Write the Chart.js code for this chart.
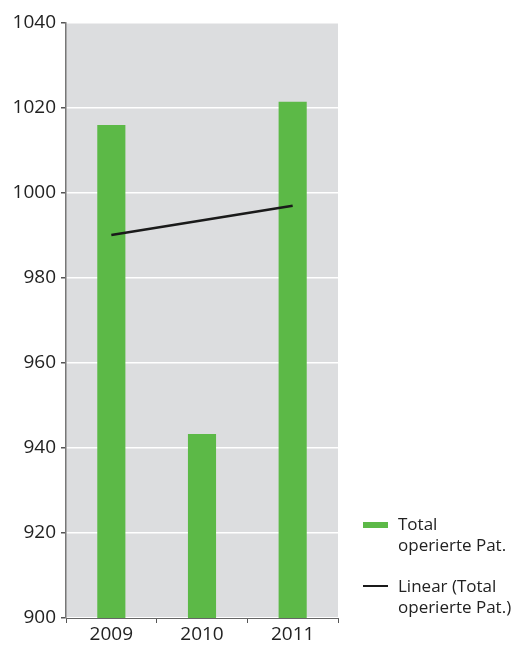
<!DOCTYPE html>
<html>
<head>
<meta charset="utf-8">
<script src="https://cdn.jsdelivr.net/npm/chart.js@4/dist/chart.umd.min.js"></script>
<style>
  html, body { margin: 0; padding: 0; background: #fff; }
  #wrap { position: relative; width: 529px; height: 646px; }
  #legend { position: absolute; left: 363px; top: 513px; font-family: "Open Sans", sans-serif; font-size: 17px; color: #222; line-height: 21px; }
  .item { position: relative; padding-left: 35px; margin-bottom: 20px; white-space: nowrap; }
  .swatch { position: absolute; left: 0; width: 25px; }
</style>
</head>
<body>
<div id="wrap">
  <canvas id="chart" width="529" height="646"></canvas>
  <div id="legend">
    <div class="item"><span class="swatch" style="top:9px;height:6px;background:#5cb947"></span>Total<br>operierte Pat.</div>
    <div class="item"><span class="swatch" style="top:10px;height:2px;background:#1a1a1a"></span>Linear (Total<br>operierte Pat.)</div>
  </div>
</div>
<script>
const years = ['2009', '2010', '2011'];
const operiertePat = [1016, 943.3, 1021.5];
// trend line end points, straight line between them
const linearTrend = [990.1, null, 997.0];
const yTicks = [900, 920, 940, 960, 980, 1000, 1020, 1040];

// grey plot background
const plotBg = {
  id: 'plotBg',
  beforeDraw(chart) {
    const { ctx, chartArea: a } = chart;
    ctx.save();
    ctx.fillStyle = '#dcdddf';
    ctx.fillRect(a.left, a.top, a.right - a.left, a.bottom - a.top);
    ctx.restore();
  }
};

const ctx = document.getElementById('chart').getContext('2d');
new Chart(ctx, {
  data: {
    labels: years,
    datasets: [
      {
        type: 'line',
        label: 'Linear (Total operierte Pat.)',
        data: linearTrend,
        borderColor: '#1a1a1a',
        borderWidth: 2.5,
        pointRadius: 0,
        spanGaps: true,
        order: 0
      },
      {
        type: 'bar',
        label: 'Total operierte Pat.',
        data: operiertePat,
        backgroundColor: '#5cb947',
        categoryPercentage: 1,
        barPercentage: 0.31,
        order: 1
      }
    ]
  },
  options: {
    responsive: false,
    animation: false,
    layout: { padding: { top: 23, right: 191, left: 0, bottom: 0 } },
    plugins: { legend: { display: false }, tooltip: { enabled: false } },
    scales: {
      x: {
        offset: true,
        afterFit(scale) { scale.height = 28; },
        grid: { offset: true, drawOnChartArea: false, tickLength: 5, tickColor: '#555' },
        border: { color: '#666', width: 1 },
        ticks: { color: '#222', font: { family: 'Open Sans', size: 19 }, padding: 0 }
      },
      y: {
        min: 900,
        max: 1040,
        afterFit(scale) { scale.width = 66; },
        afterBuildTicks(scale) { scale.ticks = yTicks.map(v => ({ value: v })); },
        grid: { color: '#ffffff', lineWidth: 1.5, tickLength: 5, tickColor: '#555' },
        border: { color: '#777', width: 1.5 },
        ticks: {
          color: '#222',
          font: { family: 'Open Sans', size: 19 },
          padding: 5,
          callback: v => String(v)
        }
      }
    }
  },
  plugins: [plotBg]
});
</script>
</body>
</html>
